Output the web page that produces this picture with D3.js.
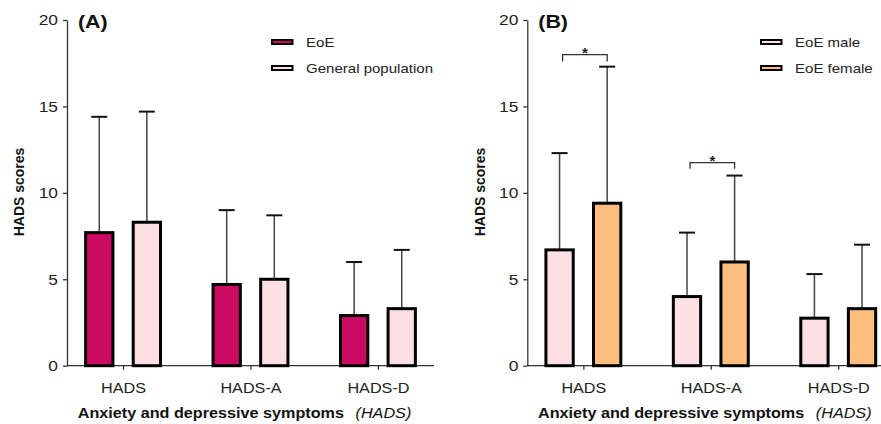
<!DOCTYPE html>
<html>
<head>
<meta charset="utf-8">
<script src="https://cdn.jsdelivr.net/npm/d3@7"></script>
<style>
  body { margin: 0; background: #fff; }
  svg { display: block; font-family: "Liberation Sans", Arial, sans-serif; }
</style>
</head>
<body>
<div id="chart"></div>
<script>
// data (mean and SD, upper whisker only)
const categories = ['HADS', 'HADS-A', 'HADS-D'];
const yTicks = [0, 5, 10, 15, 20];

const eoeMean = [7.7, 4.7, 2.9];
const eoeSd = [6.7, 4.3, 3.1];
const genMean = [8.3, 5.0, 3.3];
const genSd = [6.4, 3.7, 3.4];

const maleMean = [6.7, 4.0, 2.75];
const maleSd = [5.6, 3.7, 2.55];
const femaleMean = [9.4, 6.0, 3.3];
const femaleSd = [7.9, 5.0, 3.7];

// significance brackets in panel B (category, bracket height, leg end)
const sigCats = ['HADS', 'HADS-A'];
const sigTop = [18.0, 11.75];
const sigLeg = [17.6, 11.4];

const W = 881, H = 424;
const SX = 1.157; // the original figure is a bit wider than tall, text too

const svg = d3.select('#chart').append('svg')
    .attr('width', W)
    .attr('height', H);

// widen horizontal text around its own x
function stretch (sel) {
    sel.each(function () {
        const t = d3.select(this);
        const x = +t.attr('x') || 0;
        t.attr('transform', `translate(${x},0) scale(${SX},1) translate(${-x},0)`);
    });
}

function drawPanel (opts) {
    const x0 = opts.left;
    const x = d3.scalePoint()
        .domain(categories)
        .range([x0, x0 + 367])
        .padding(0.44);
    const y = d3.scaleLinear()
        .domain([0, 20])
        .range([365.7, 20]);
    const sub = d3.scaleBand()
        .domain(opts.series.map(s => s.name))
        .range([-37.45, 37.45])
        .paddingInner(0.4265);

    const g = svg.append('g');

    // axes
    const yAxis = g.append('g')
        .attr('transform', `translate(${x0},0)`)
        .call(d3.axisLeft(y).tickValues(yTicks).tickSize(4).tickSizeOuter(0).tickPadding(5));
    yAxis.selectAll('text').style('font-size', '15px').attr('fill', '#222').call(stretch);
    yAxis.selectAll('line, path').attr('stroke', '#333').attr('stroke-width', 1.3);

    const xAxis = g.append('g')
        .attr('transform', `translate(0,${y(0)})`)
        .call(d3.axisBottom(x).tickSize(4).tickSizeOuter(0).tickPadding(13));
    xAxis.select('.domain').attr('d', `M${x0},0H${x0 + 367}`);
    xAxis.selectAll('text').style('font-size', '14px').attr('fill', '#222').call(stretch);
    xAxis.selectAll('line, path').attr('stroke', '#333').attr('stroke-width', 1.3);

    // bars + error bars
    opts.series.forEach((s) => {
        const rows = categories.map((c, i) => ({ cat: c, mean: s.mean[i], sd: s.sd[i] }));
        const cx = d => x(d.cat) + sub(s.name) + sub.bandwidth() / 2;

        g.selectAll(null)
            .data(rows)
            .enter()
            .append('line')
            .attr('x1', cx).attr('x2', cx)
            .attr('y1', d => y(d.mean))
            .attr('y2', d => y(d.mean + d.sd))
            .attr('stroke', '#444')
            .attr('stroke-width', 1.5);

        g.selectAll(null)
            .data(rows)
            .enter()
            .append('line')
            .attr('x1', d => cx(d) - 8).attr('x2', d => cx(d) + 8)
            .attr('y1', d => y(d.mean + d.sd))
            .attr('y2', d => y(d.mean + d.sd))
            .attr('stroke', '#111')
            .attr('stroke-width', 2);

        g.selectAll(null)
            .data(rows)
            .enter()
            .append('rect')
            .attr('x', d => x(d.cat) + sub(s.name))
            .attr('width', sub.bandwidth())
            .attr('y', d => y(d.mean))
            .attr('height', d => y(0) - y(d.mean))
            .attr('fill', s.color)
            .attr('stroke', '#000')
            .attr('stroke-width', 3);
    });

    // significance brackets
    if (opts.sig) {
        const [a, b] = opts.series.map(s => s.name);
        opts.sig.cats.forEach((c, i) => {
            const xl = x(c) + sub(a) + sub.bandwidth() / 2 + 3;
            const xr = x(c) + sub(b) + sub.bandwidth() / 2;
            const yt = y(opts.sig.top[i]);
            const yl = y(opts.sig.leg[i]);
            g.append('path')
                .attr('d', `M${xl},${yl}V${yt}H${xr}V${yl}`)
                .attr('fill', 'none')
                .attr('stroke', '#333')
                .attr('stroke-width', 1.3);
            g.append('text')
                .attr('x', (xl + xr) / 2)
                .attr('y', yt + 3)
                .attr('text-anchor', 'middle')
                .style('font-size', '15px')
                .style('font-weight', 'bold')
                .attr('fill', '#222')
                .text('*');
        });
    }

    // panel letter
    g.append('text')
        .attr('x', x0 + 11)
        .attr('y', 28)
        .style('font-size', '18.5px')
        .style('font-weight', 'bold')
        .attr('fill', '#111')
        .text(opts.label)
        .call(stretch);

    // y title
    g.append('text')
        .attr('transform', `translate(${x0 - 47.5},192) rotate(-90)`)
        .attr('text-anchor', 'middle')
        .attr('dy', '0.35em')
        .style('font-size', '14px')
        .style('font-weight', 'bold')
        .attr('fill', '#111')
        .text('HADS scores');

    // x title
    const xt = g.append('text')
        .attr('x', x0 + 177.5)
        .attr('y', 418)
        .attr('text-anchor', 'middle')
        .style('font-size', '14px')
        .attr('fill', '#111');
    xt.append('tspan').style('font-weight', 'bold').text('Anxiety and depressive symptoms');
    xt.append('tspan').attr('dx', 10).style('font-style', 'italic').text('(HADS)');
    xt.call(stretch);

    // legend
    const lg = g.append('g').attr('transform', `translate(${opts.legendX},0)`);
    opts.series.forEach((s, i) => {
        const cy = 42 + i * 26;
        lg.append('rect')
            .attr('x', 1).attr('y', cy - 2)
            .attr('width', 20.5).attr('height', 4)
            .attr('fill', s.color)
            .attr('stroke', '#000')
            .attr('stroke-width', 2);
        lg.append('text')
            .attr('x', 35)
            .attr('y', cy)
            .attr('dy', '0.35em')
            .style('font-size', '13px')
            .attr('fill', '#222')
            .text(s.name)
            .call(stretch);
    });
}

drawPanel({
    left: 67,
    label: '(A)',
    legendX: 271,
    series: [
        { name: 'EoE', mean: eoeMean, sd: eoeSd, color: '#cc0a62' },
        { name: 'General population', mean: genMean, sd: genSd, color: '#fde0e3' }
    ]
});

drawPanel({
    left: 527.3,
    label: '(B)',
    legendX: 760,
    series: [
        { name: 'EoE male', mean: maleMean, sd: maleSd, color: '#fde0e3' },
        { name: 'EoE female', mean: femaleMean, sd: femaleSd, color: '#fdbf80' }
    ],
    sig: { cats: sigCats, top: sigTop, leg: sigLeg }
});
</script>
</body>
</html>
